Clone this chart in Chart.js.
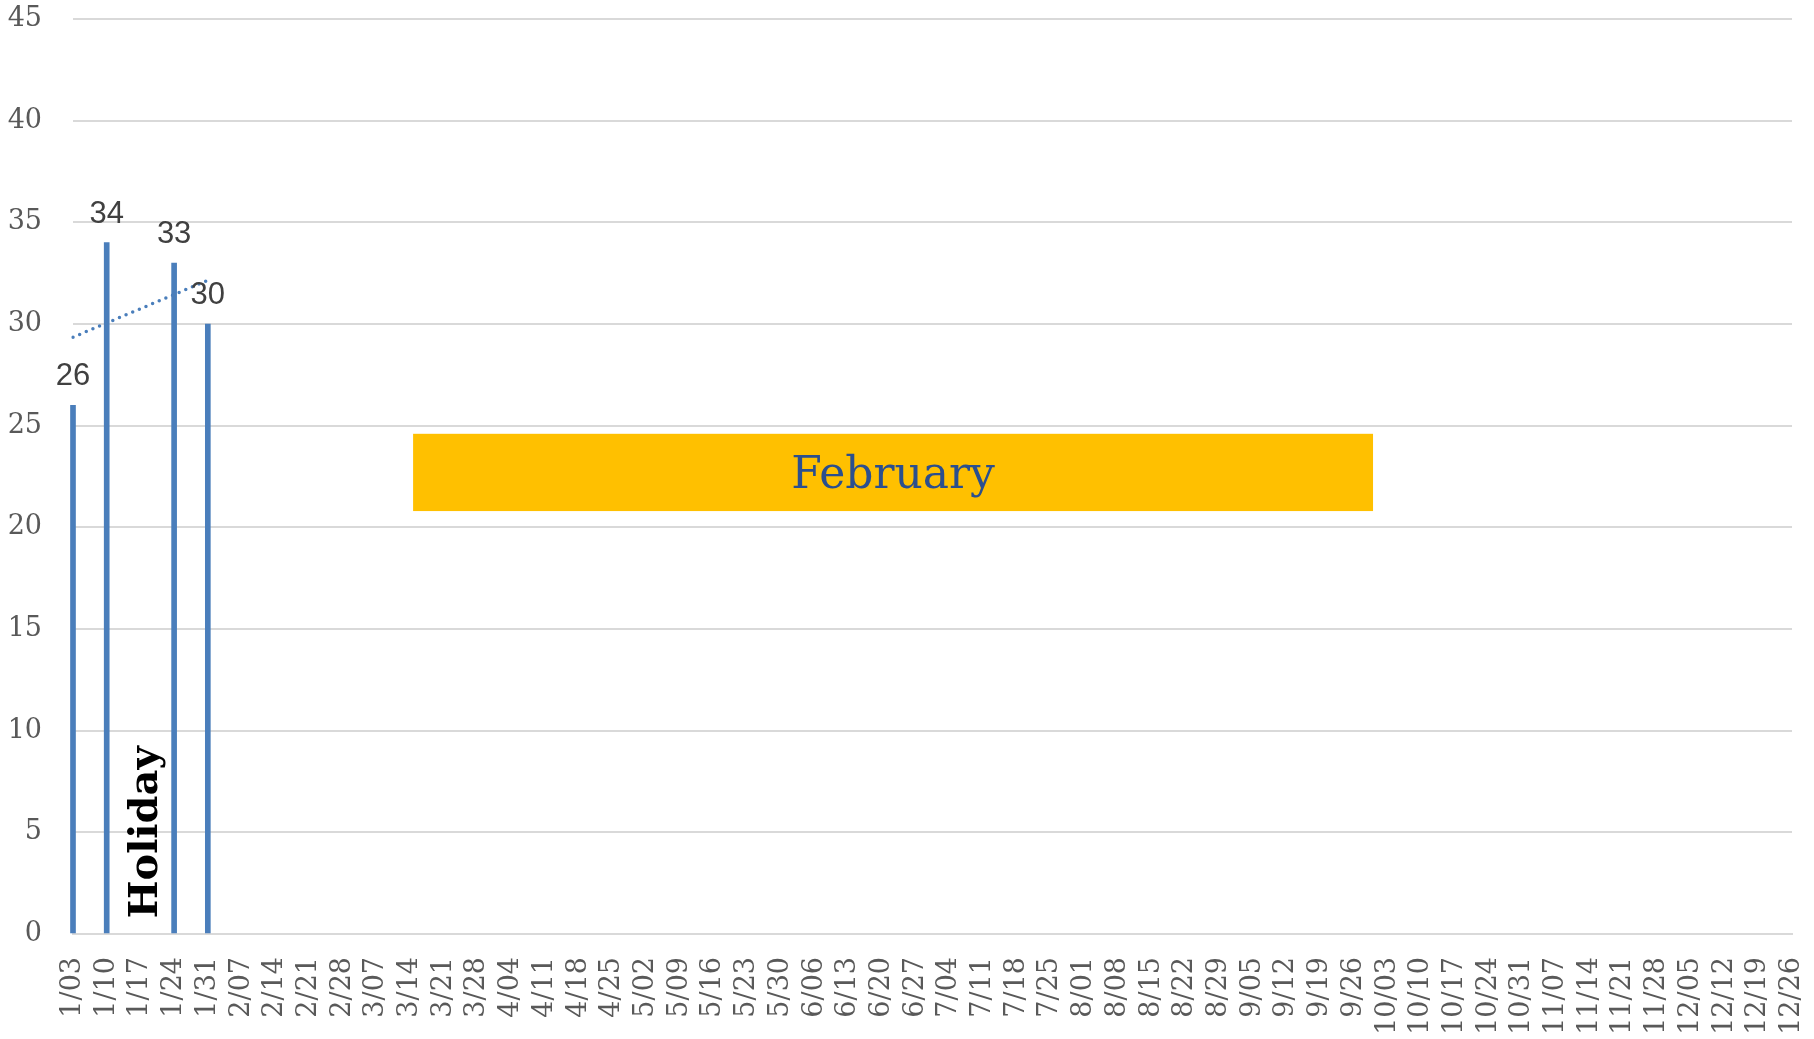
<!DOCTYPE html>
<html>
<head>
<meta charset="utf-8">
<script src="https://cdn.jsdelivr.net/npm/chart.js@4.4.0/dist/chart.umd.min.js"></script>
<style>
  html, body { margin: 0; padding: 0; background: #fff; }
  #wrap { width: 1814px; height: 1039px; }
</style>
</head>
<body>
<div id="wrap"><canvas id="chartSemanas" width="1814" height="1039"></canvas></div>
<script>
const semanas = [
    '1/03', '1/10', '1/17', '1/24', '1/31',
    '2/07', '2/14', '2/21', '2/28',
    '3/07', '3/14', '3/21', '3/28',
    '4/04', '4/11', '4/18', '4/25',
    '5/02', '5/09', '5/16', '5/23', '5/30',
    '6/06', '6/13', '6/20', '6/27',
    '7/04', '7/11', '7/18', '7/25',
    '8/01', '8/08', '8/15', '8/22', '8/29',
    '9/05', '9/12', '9/19', '9/26',
    '10/03', '10/10', '10/17', '10/24', '10/31',
    '11/07', '11/14', '11/21', '11/28',
    '12/05', '12/12', '12/19', '12/26',
];
const valores = [26, 34, null, 33, 30];
const tendencia = [29.35, null, null, null, 32.15];
const yTicks = [0, 5, 10, 15, 20, 25, 30, 35, 40, 45];

const azul = 'rgb(74, 126, 187)';
const serif = "'DejaVu Serif', serif";

// rotulos de valor encima de cada barra
const etiquetasPlugin = {
    id: 'etiquetas',
    afterDatasetsDraw(chart) {
        const ctx = chart.ctx;
        const meta = chart.getDatasetMeta(0);
        ctx.save();
        ctx.font = "31px 'Liberation Sans', Arial, sans-serif";
        ctx.fillStyle = '#404040';
        ctx.textAlign = 'center';
        ctx.textBaseline = 'bottom';
        meta.data.forEach((bar, i) => {
            if (valores[i] == null) return;
            ctx.fillText(String(valores[i]), bar.x, bar.y - 13);
        });
        ctx.restore();
    },
};

// cuadro "February" y texto "Holiday"
const anotacionesPlugin = {
    id: 'anotaciones',
    beforeDatasetsDraw(chart, args, opts) {
        const { ctx, scales: { x, y } } = chart;
        ctx.save();
        const b = opts.caja;
        const x0 = x.getPixelForValue(b.xDesde);
        const x1 = x.getPixelForValue(b.xHasta);
        const y0 = y.getPixelForValue(b.yHasta);
        const y1 = y.getPixelForValue(b.yDesde);
        ctx.fillStyle = '#FFC000';
        ctx.fillRect(x0, y0, x1 - x0, y1 - y0);
        ctx.fillStyle = '#2b4f8e';
        ctx.font = '44px ' + serif;
        ctx.textAlign = 'center';
        ctx.textBaseline = 'middle';
        ctx.fillText(b.texto, (x0 + x1) / 2, (y0 + y1) / 2 + 4);

        const h = opts.vertical;
        ctx.translate(x.getPixelForValue(h.x), y.getPixelForValue(h.y));
        ctx.rotate(-Math.PI / 2);
        ctx.fillStyle = '#000';
        ctx.font = 'bold 40px ' + serif;
        ctx.fillText(h.texto, 0, 0);
        ctx.restore();
    },
};

new Chart(document.getElementById('chartSemanas'), {
    data: {
        labels: semanas,
        datasets: [
            {
                type: 'bar',
                data: valores,
                backgroundColor: azul,
                barThickness: 5,
                clip: false,
                order: 2,
            },
            {
                type: 'line',
                data: tendencia,
                borderColor: azul,
                borderWidth: 3.5,
                borderDash: [0, 7.2],
                borderCapStyle: 'round',
                pointRadius: 0,
                spanGaps: true,
                fill: false,
                order: 1,
            },
        ],
    },
    options: {
        responsive: false,
        animation: false,
        layout: { padding: { top: 19, right: 22, bottom: 0, left: 0 } },
        plugins: {
            legend: { display: false },
            tooltip: { enabled: false },
            anotaciones: {
                caja: { xDesde: 10.09, xHasta: 38.57, yDesde: 20.8, yHasta: 24.6, texto: 'February' },
                vertical: { x: 2.17, y: 5, texto: 'Holiday' },
            },
        },
        scales: {
            x: {
                offset: false,
                grid: { display: false, drawTicks: false },
                border: { display: true, color: '#d9d9d9', width: 2 },
                ticks: {
                    autoSkip: false,
                    maxRotation: 90,
                    minRotation: 90,
                    padding: 23,
                    color: '#595959',
                    font: { family: serif, size: 27 },
                },
                afterFit(scale) {
                    scale.height = 105;
                    scale.paddingLeft = 0;
                    scale.paddingRight = 0;
                },
            },
            y: {
                min: 0,
                max: 45,
                afterBuildTicks(scale) { scale.ticks = yTicks.map(v => ({ value: v })); },
                grid: { color: '#d9d9d9', lineWidth: 2, drawTicks: false },
                border: { display: false },
                ticks: {
                    padding: 31,
                    color: '#595959',
                    font: { family: serif, size: 27 },
                },
                afterFit(scale) {
                    scale.width = 73;
                    scale.paddingTop = 0;
                    scale.paddingBottom = 0;
                },
            },
        },
    },
    plugins: [anotacionesPlugin, etiquetasPlugin],
});
</script>
</body>
</html>
